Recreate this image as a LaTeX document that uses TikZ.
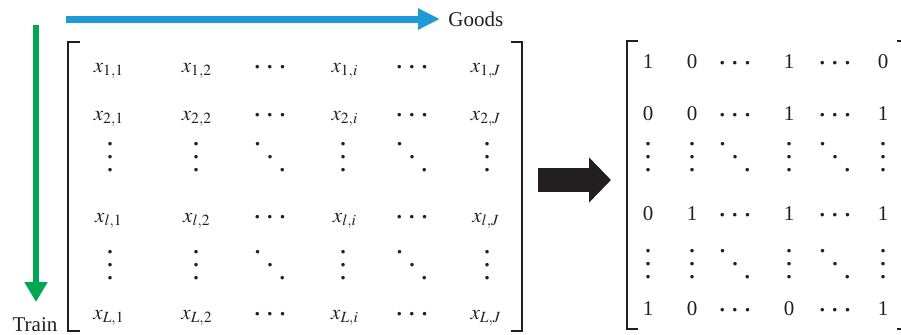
\documentclass[tikz,border=0pt]{standalone}
\usepackage{mathptmx}
\usepackage{fontspec}
\setmainfont{Liberation Serif}
\usepackage{tikz}
\usetikzlibrary{arrows.meta, positioning, calc}
\definecolor{goodsblue}{HTML}{1E9BD7}
\definecolor{traingreen}{HTML}{00A651}
\definecolor{mdark}{HTML}{231F20}
% own dot macros (wider spacing than \cdots etc.)
\newcommand{\pdot}{\hbox{\fontsize{15}{15}\selectfont.}}
\newcommand{\hdts}{\raise1.8pt\hbox{\pdot\kern2.6pt\pdot\kern2.6pt\pdot}}
\newcommand{\vdts}{\vbox{\baselineskip6.5pt\lineskiplimit-10pt\pdot\pdot\pdot}}
\newcommand{\ddts}{\hbox{\raise13pt\pdot\kern2.4pt\raise6.5pt\pdot\kern2.4pt\pdot}}
\tikzset{
  ent/.style={inner sep=0pt, anchor=base, font=\fontsize{10.5}{12}\selectfont, text=mdark},
  dts/.style={inner sep=0pt, font=\fontsize{10.5}{12}\selectfont, text=mdark},
  brk/.style={line width=1pt, mdark},
  lbl/.style={inner sep=0pt, font=\fontsize{10.5}{12}\selectfont, text=mdark},
  barr/.style={line width=3.5pt, goodsblue, -{Triangle[length=11pt, width=10pt]}},
  garr/.style={line width=3pt, traingreen, -{Triangle[length=10pt, width=11pt]}},
  karr/.style={line width=12pt, mdark, -{Triangle[length=11pt, width=22pt]}},
}

\begin{document}
\begin{tikzpicture}[x=0.5pt, y=-0.5pt]
  \useasboundingbox (0,0) rectangle (901,334);
  % axes
  \node[lbl, anchor=west] (goods) at (448,19) {Goods};
  \coordinate (gstart) at (66,19);
  \draw[barr] (gstart) -- ([xshift=-4pt]goods.west);
  \node[lbl, anchor=base] (train) at (35,331) {Train};
  \coordinate (tstart) at (36,25);
  \coordinate (tend) at (36,302);
  \draw[garr] (tstart) -- (tend);

  % left matrix
  \foreach \y/\r in {72/1, 120/2, 222/l, 319/L}{
    \foreach \x/\c in {109/1, 197/2, 345/i, 486/J}
      \node[ent] (x-\r-\c) at (\x,\y) {$x_{\r,\c}$};
    \foreach \x/\c in {270/a, 412/b}
      \node[ent] (x-\r-\c) at (\x,\y) {\hdts};
  }
  \foreach \y/\r in {157/v, 265/w}{
    \foreach \x/\c in {110/1, 196/2, 343/i, 487/J}
      \node[dts] (x-\r-\c) at (\x,\y) {\vdts};
    \foreach \x/\c in {270/a, 412/b}
      \node[dts] (x-\r-\c) at (\x,\y) {\ddts};
  }
  \draw[brk] (80,42) -| (68,331) -- (80,331);
  \draw[brk] (511,42) -| (522,331) -- (511,331);

  % conversion arrow
  \coordinate (cstart) at (538,180);
  \coordinate (cend) at (611,180);
  \draw[karr] (cstart) -- (cend);

  % right matrix
  \foreach \y/\r/\a/\b/\c/\d in {68/1/1/0/1/0, 120/2/0/0/1/1, 220/l/0/1/1/1, 315/L/1/0/0/1}{
    \node[ent] (y-\r-1) at (648,\y) {\a};
    \node[ent] (y-\r-2) at (692,\y) {\b};
    \node[ent] (y-\r-a) at (735,\y) {\hdts};
    \node[ent] (y-\r-i) at (789,\y) {\c};
    \node[ent] (y-\r-b) at (835,\y) {\hdts};
    \node[ent] (y-\r-J) at (883,\y) {\d};
  }
  \foreach \y/\r in {157/v, 264/w}{
    \foreach \x/\c in {648/1, 692/2, 789/i, 883/J}
      \node[dts] (y-\r-\c) at (\x,\y) {\vdts};
    \foreach \x/\c in {735/a, 835/b}
      \node[dts] (y-\r-\c) at (\x,\y) {\ddts};
  }
  \draw[brk] (638,41) -| (627,329) -- (638,329);
  \draw[brk] (897,41) -| (903,329) -- (897,329);
\end{tikzpicture}
\end{document}
